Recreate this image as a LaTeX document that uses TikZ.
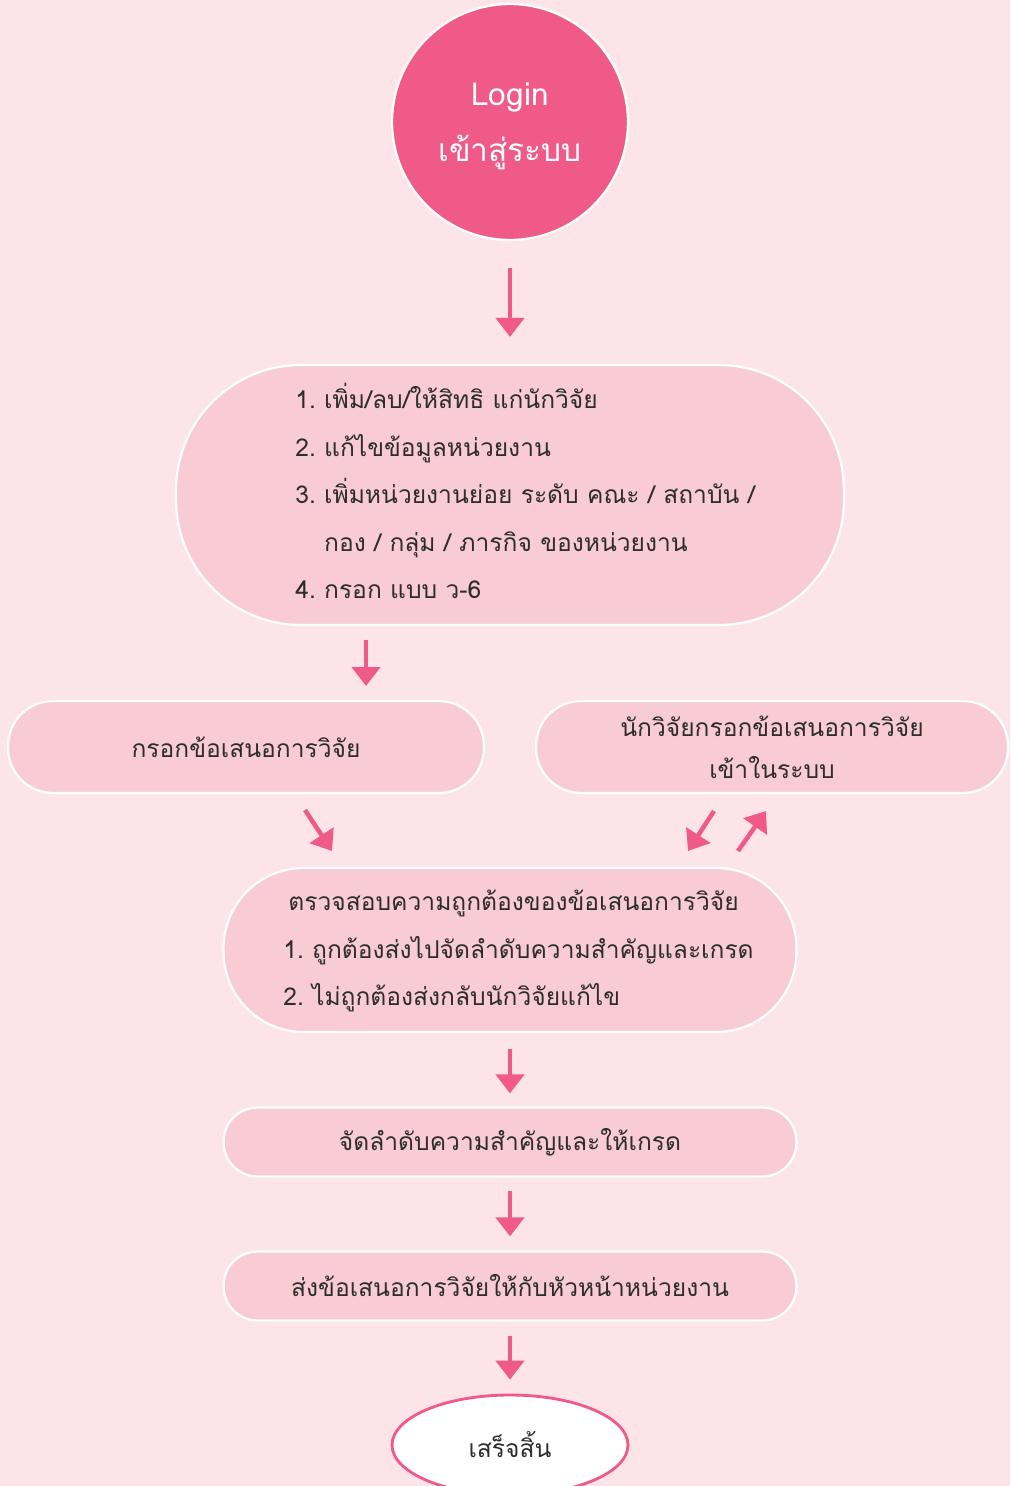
\documentclass[tikz,border=0pt]{standalone}
\usepackage{fontspec}
\usetikzlibrary{positioning,shapes.geometric,arrows.meta}
\newfontfamily\thaifont[Script=Thai]{Loma}
\definecolor{bgpink}{RGB}{252,228,232}
\definecolor{boxpink}{RGB}{248,203,213}
\definecolor{hotpink}{RGB}{240,90,137}
\definecolor{textgray}{RGB}{45,45,45}

\begin{document}
\begin{tikzpicture}[x=0.02cm, y=-0.02cm,
					roundbox/.style={rectangle, fill=boxpink, draw=white, line width=1.3pt, rounded corners=#1, text=textgray, font=\thaifont\fontsize{14}{27}\selectfont},
					roundbox/.default=0.68cm,
					startnode/.style={circle, fill=hotpink, draw=white, line width=1.3pt, minimum size=4.72cm},
					starttext/.style={align=center, text=white, font=\thaifont\fontsize{18}{32}\selectfont},
					endnode/.style={ellipse, fill=white, draw=hotpink, line width=1.6pt, minimum width=4.72cm, minimum height=2cm, text=textgray, font=\thaifont\fontsize{14}{27}\selectfont},
					steplist/.style={rectangle, anchor=west, align=left, inner sep=0pt, text=textgray, font=\thaifont\fontsize{14}{27}\selectfont},
					flow/.style={line width=0.09cm, draw=hotpink, -{Triangle[width=0.56cm, length=0.38cm]}}
				]
				\fill[bgpink] (0,0) rectangle (1010,1486);
				\useasboundingbox (0,0) rectangle (1010,1486);
				\node[startnode] (loginnode) at (510,122) {};
				\node[starttext] (logintext) at (510,126) {Login\\เข้าสู่ระบบ};
				\node[roundbox=2.5cm, minimum width=13.36cm, minimum height=5.2cm] (adminbox) at (510,495) {};
				\node[steplist] (adminsteps) at (295,491) {1.\ เพิ่ม/ลบ/ให้สิทธิ แก่นักวิจัย\\2.\ แก้ไขข้อมูลหน่วยงาน\\3.\ เพิ่มหน่วยงานย่อย ระดับ คณะ / สถาบัน /\\\phantom{3.\ }กอง / กลุ่ม / ภารกิจ ของหน่วยงาน\\4.\ กรอก แบบ ว-6};
				\node[roundbox=0.9cm, minimum width=9.52cm, minimum height=1.84cm] (fillproposal) at (246,747) {กรอกข้อเสนอการวิจัย};
				\node[roundbox=0.9cm, minimum width=9.44cm, minimum height=1.84cm, align=center, font=\thaifont\fontsize{14}{24}\selectfont] (researcherfill) at (772,747) {นักวิจัยกรอกข้อเสนอการวิจัย\\เข้าในระบบ};
				\node[roundbox=1.6cm, minimum width=11.46cm, minimum height=3.28cm] (checkbox) at (510,950) {};
				\node[steplist] (checksteps) at (283,951) {\hspace{0.1cm}ตรวจสอบความถูกต้องของข้อเสนอการวิจัย\\1.\ ถูกต้องส่งไปจัดลำดับความสำคัญและเกรด\\2.\ ไม่ถูกต้องส่งกลับนักวิจัยแก้ไข};
				\node[roundbox, minimum width=11.46cm, minimum height=1.38cm] (rankgrade) at (510,1142) {จัดลำดับความสำคัญและให้เกรด};
				\node[roundbox, minimum width=11.46cm, minimum height=1.38cm] (sendhead) at (510,1286) {ส่งข้อเสนอการวิจัยให้กับหัวหน้าหน่วยงาน};
				\node[endnode] (finished) at (510,1445) {เสร็จสิ้น};
				\coordinate (leftfrom) at (305,810);
				\coordinate (leftto) at (332,851);
				\coordinate (backfrom) at (714,811);
				\coordinate (backto) at (688,851);
				\coordinate (upfrom) at (738,851);
				\coordinate (upto) at (766,811);
				\coordinate (splitfrom) at (366,640);
				\coordinate (splitto) at (366,686);
				\begin{scope}[flow]
				\draw[shorten <=0.54cm, shorten >=0.54cm] (loginnode.south) -- (adminbox.north);
				\draw (splitfrom) -- (splitto);
				\draw (leftfrom) -- (leftto);
				\draw (backfrom) -- (backto);
				\draw (upfrom) -- (upto);
				\draw[shorten <=0.32cm, shorten >=0.26cm] (checkbox.south) -- (rankgrade.north);
				\draw[shorten <=0.26cm, shorten >=0.28cm] (rankgrade.south) -- (sendhead.north);
				\draw[shorten <=0.28cm, shorten >=0.28cm] (sendhead.south) -- (finished.north);
				\end{scope}
				\end{tikzpicture}
\end{document}
